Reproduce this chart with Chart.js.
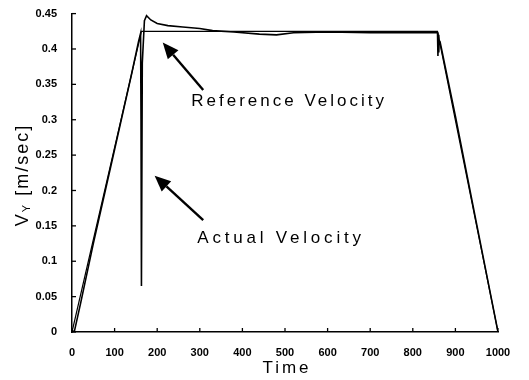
<!DOCTYPE html>
<html>
<head>
<meta charset="utf-8">
<script src="https://cdn.jsdelivr.net/npm/chart.js@4.4.1/dist/chart.umd.min.js"></script>
<style>
  html, body { margin: 0; padding: 0; background: #fff; }
  #wrap { width: 529px; height: 380px; }
</style>
</head>
<body>
<div id="wrap"><canvas id="velChart"></canvas></div>
<script>
// reference velocity profile (trapezoid)
const refTime = [0, 163, 858, 1000];
const refVel  = [0, 0.425, 0.425, 0];

// actual velocity
const actTime = [0, 6, 20, 50, 100, 140, 156, 161, 162, 163, 165, 170, 175, 185, 200, 225, 260, 300, 330, 380, 440, 480, 520, 600, 700, 800, 856, 858, 859, 860, 861, 862, 864, 900, 950, 1000];
const actVel  = [0, 0.002, 0.04, 0.125, 0.258, 0.365, 0.41, 0.422, 0.3, 0.065, 0.38, 0.44, 0.447, 0.441, 0.436, 0.433, 0.431, 0.429, 0.426, 0.424, 0.421, 0.42, 0.423, 0.424, 0.423, 0.423, 0.423, 0.423, 0.39, 0.42, 0.395, 0.412, 0.41, 0.305, 0.152, 0];

// axis ticks
const xTicks = [0, 100, 200, 300, 400, 500, 600, 700, 800, 900, 1000];
const xTickLabels = ['0', '100', '200', '300', '400', '500', '600', '700', '800', '900', '1000'];
const yTicks = [0, 0.05, 0.1, 0.15, 0.2, 0.25, 0.3, 0.35, 0.4, 0.45];
const yTickLabels = ['0', '0.05', '0.1', '0.15', '0.2', '0.25', '0.3', '0.35', '0.4', '0.45'];

// annotations: label, text anchor (t, v), arrow tail, arrow tip
const noteText  = ['Reference Velocity', 'Actual Velocity'];
const noteAt    = [[280, 0.326], [294, 0.133]];
const arrowFrom = [[308, 0.342], [308, 0.158]];
const arrowTo   = [[213, 0.409], [194, 0.221]];

const toPoints = (xs, ys) => xs.map((x, i) => ({ x: x, y: ys[i] }));

const scanFont = '"Liberation Sans", Arial, sans-serif';

// inside tick marks, axis titles, arrows + labels
const extras = {
    id: 'extras',
    afterDraw(chart) {
        const ctx = chart.ctx;
        const xs = chart.scales.x, ys = chart.scales.y;
        const area = chart.chartArea;
        ctx.save();
        ctx.strokeStyle = '#000';
        ctx.fillStyle = '#000';
        ctx.lineWidth = 1.3;

        xTicks.forEach(t => {
            const px = xs.getPixelForValue(t);
            ctx.beginPath();
            ctx.moveTo(px, area.bottom);
            ctx.lineTo(px, area.bottom - 4);
            ctx.stroke();
        });
        yTicks.forEach(v => {
            const py = ys.getPixelForValue(v);
            ctx.beginPath();
            ctx.moveTo(area.left, py);
            ctx.lineTo(area.left + 4, py);
            ctx.stroke();
        });

        // arrows
        ctx.lineWidth = 2.4;
        arrowFrom.forEach((a, i) => {
            const x1 = xs.getPixelForValue(a[0]), y1 = ys.getPixelForValue(a[1]);
            const x2 = xs.getPixelForValue(arrowTo[i][0]), y2 = ys.getPixelForValue(arrowTo[i][1]);
            const ang = Math.atan2(y2 - y1, x2 - x1);
            const headLen = 16, headW = 7;
            const bx = x2 - headLen * Math.cos(ang), by = y2 - headLen * Math.sin(ang);
            ctx.beginPath();
            ctx.moveTo(x1, y1);
            ctx.lineTo(bx, by);
            ctx.stroke();
            ctx.beginPath();
            ctx.moveTo(x2, y2);
            ctx.lineTo(bx + headW * Math.sin(ang), by - headW * Math.cos(ang));
            ctx.lineTo(bx - headW * Math.sin(ang), by + headW * Math.cos(ang));
            ctx.closePath();
            ctx.fill();
        });

        // annotation labels
        ctx.font = '17px ' + scanFont;
        ctx.letterSpacing = '3px';
        ctx.textAlign = 'left';
        ctx.textBaseline = 'middle';
        ctx.fillText(noteText[0], xs.getPixelForValue(noteAt[0][0]), ys.getPixelForValue(noteAt[0][1]));
        ctx.letterSpacing = '3.8px';
        ctx.fillText(noteText[1], xs.getPixelForValue(noteAt[1][0]), ys.getPixelForValue(noteAt[1][1]));

        // x title
        ctx.letterSpacing = '3px';
        ctx.textAlign = 'center';
        ctx.fillText('Time', 287, 368);

        // y title: V with subscript Y
        ctx.translate(23, 175);
        ctx.rotate(-Math.PI / 2);
        ctx.letterSpacing = '2px';
        ctx.textAlign = 'left';
        ctx.font = '18px ' + scanFont;
        const w1 = ctx.measureText('V').width;
        ctx.font = '11px ' + scanFont;
        const w2 = ctx.measureText('Y').width;
        ctx.font = '18px ' + scanFont;
        const w3 = ctx.measureText(' [m/sec]').width;
        let x0 = -(w1 + w2 + w3) / 2;
        ctx.fillText('V', x0, 0);
        ctx.font = '11px ' + scanFont;
        ctx.fillText('Y', x0 + w1, 4);
        ctx.font = '18px ' + scanFont;
        ctx.fillText(' [m/sec]', x0 + w1 + w2, 0);
        ctx.restore();
    }
};

new Chart(document.getElementById('velChart'), {
    type: 'line',
    data: {
        datasets: [{
            label: 'Reference Velocity',
            data: toPoints(refTime, refVel),
            borderColor: '#000',
            borderWidth: 1.2,
            pointRadius: 0,
            tension: 0,
            fill: false
        }, {
            label: 'Actual Velocity',
            data: toPoints(actTime, actVel),
            borderColor: '#000',
            borderWidth: 1.6,
            pointRadius: 0,
            tension: 0,
            fill: false
        }]
    },
    options: {
        responsive: true,
        maintainAspectRatio: false,
        animation: false,
        layout: { padding: { top: 12, right: 31, left: 0, bottom: 0 } },
        plugins: {
            legend: { display: false },
            tooltip: { enabled: false }
        },
        scales: {
            x: {
                type: 'linear',
                min: 0,
                max: 1000,
                afterBuildTicks: s => { s.ticks = xTicks.map(v => ({ value: v })); },
                afterFit: s => { s.height = 48; },
                grid: { display: false },
                border: { display: true, color: '#000', width: 1.5 },
                ticks: {
                    color: '#000',
                    padding: 6,
                    maxRotation: 0,
                    font: { family: scanFont, size: 11, weight: 'bold' },
                    callback: (v, i) => xTickLabels[i]
                }
            },
            y: {
                min: 0,
                max: 0.45,
                afterBuildTicks: s => { s.ticks = yTicks.map(v => ({ value: v })); },
                afterFit: s => { s.width = 72; },
                grid: { display: false },
                border: { display: true, color: '#000', width: 1.5 },
                ticks: {
                    color: '#000',
                    padding: 7,
                    font: { family: scanFont, size: 11, weight: 'bold' },
                    callback: (v, i) => yTickLabels[i]
                }
            }
        }
    },
    plugins: [extras]
});
</script>
</body>
</html>
